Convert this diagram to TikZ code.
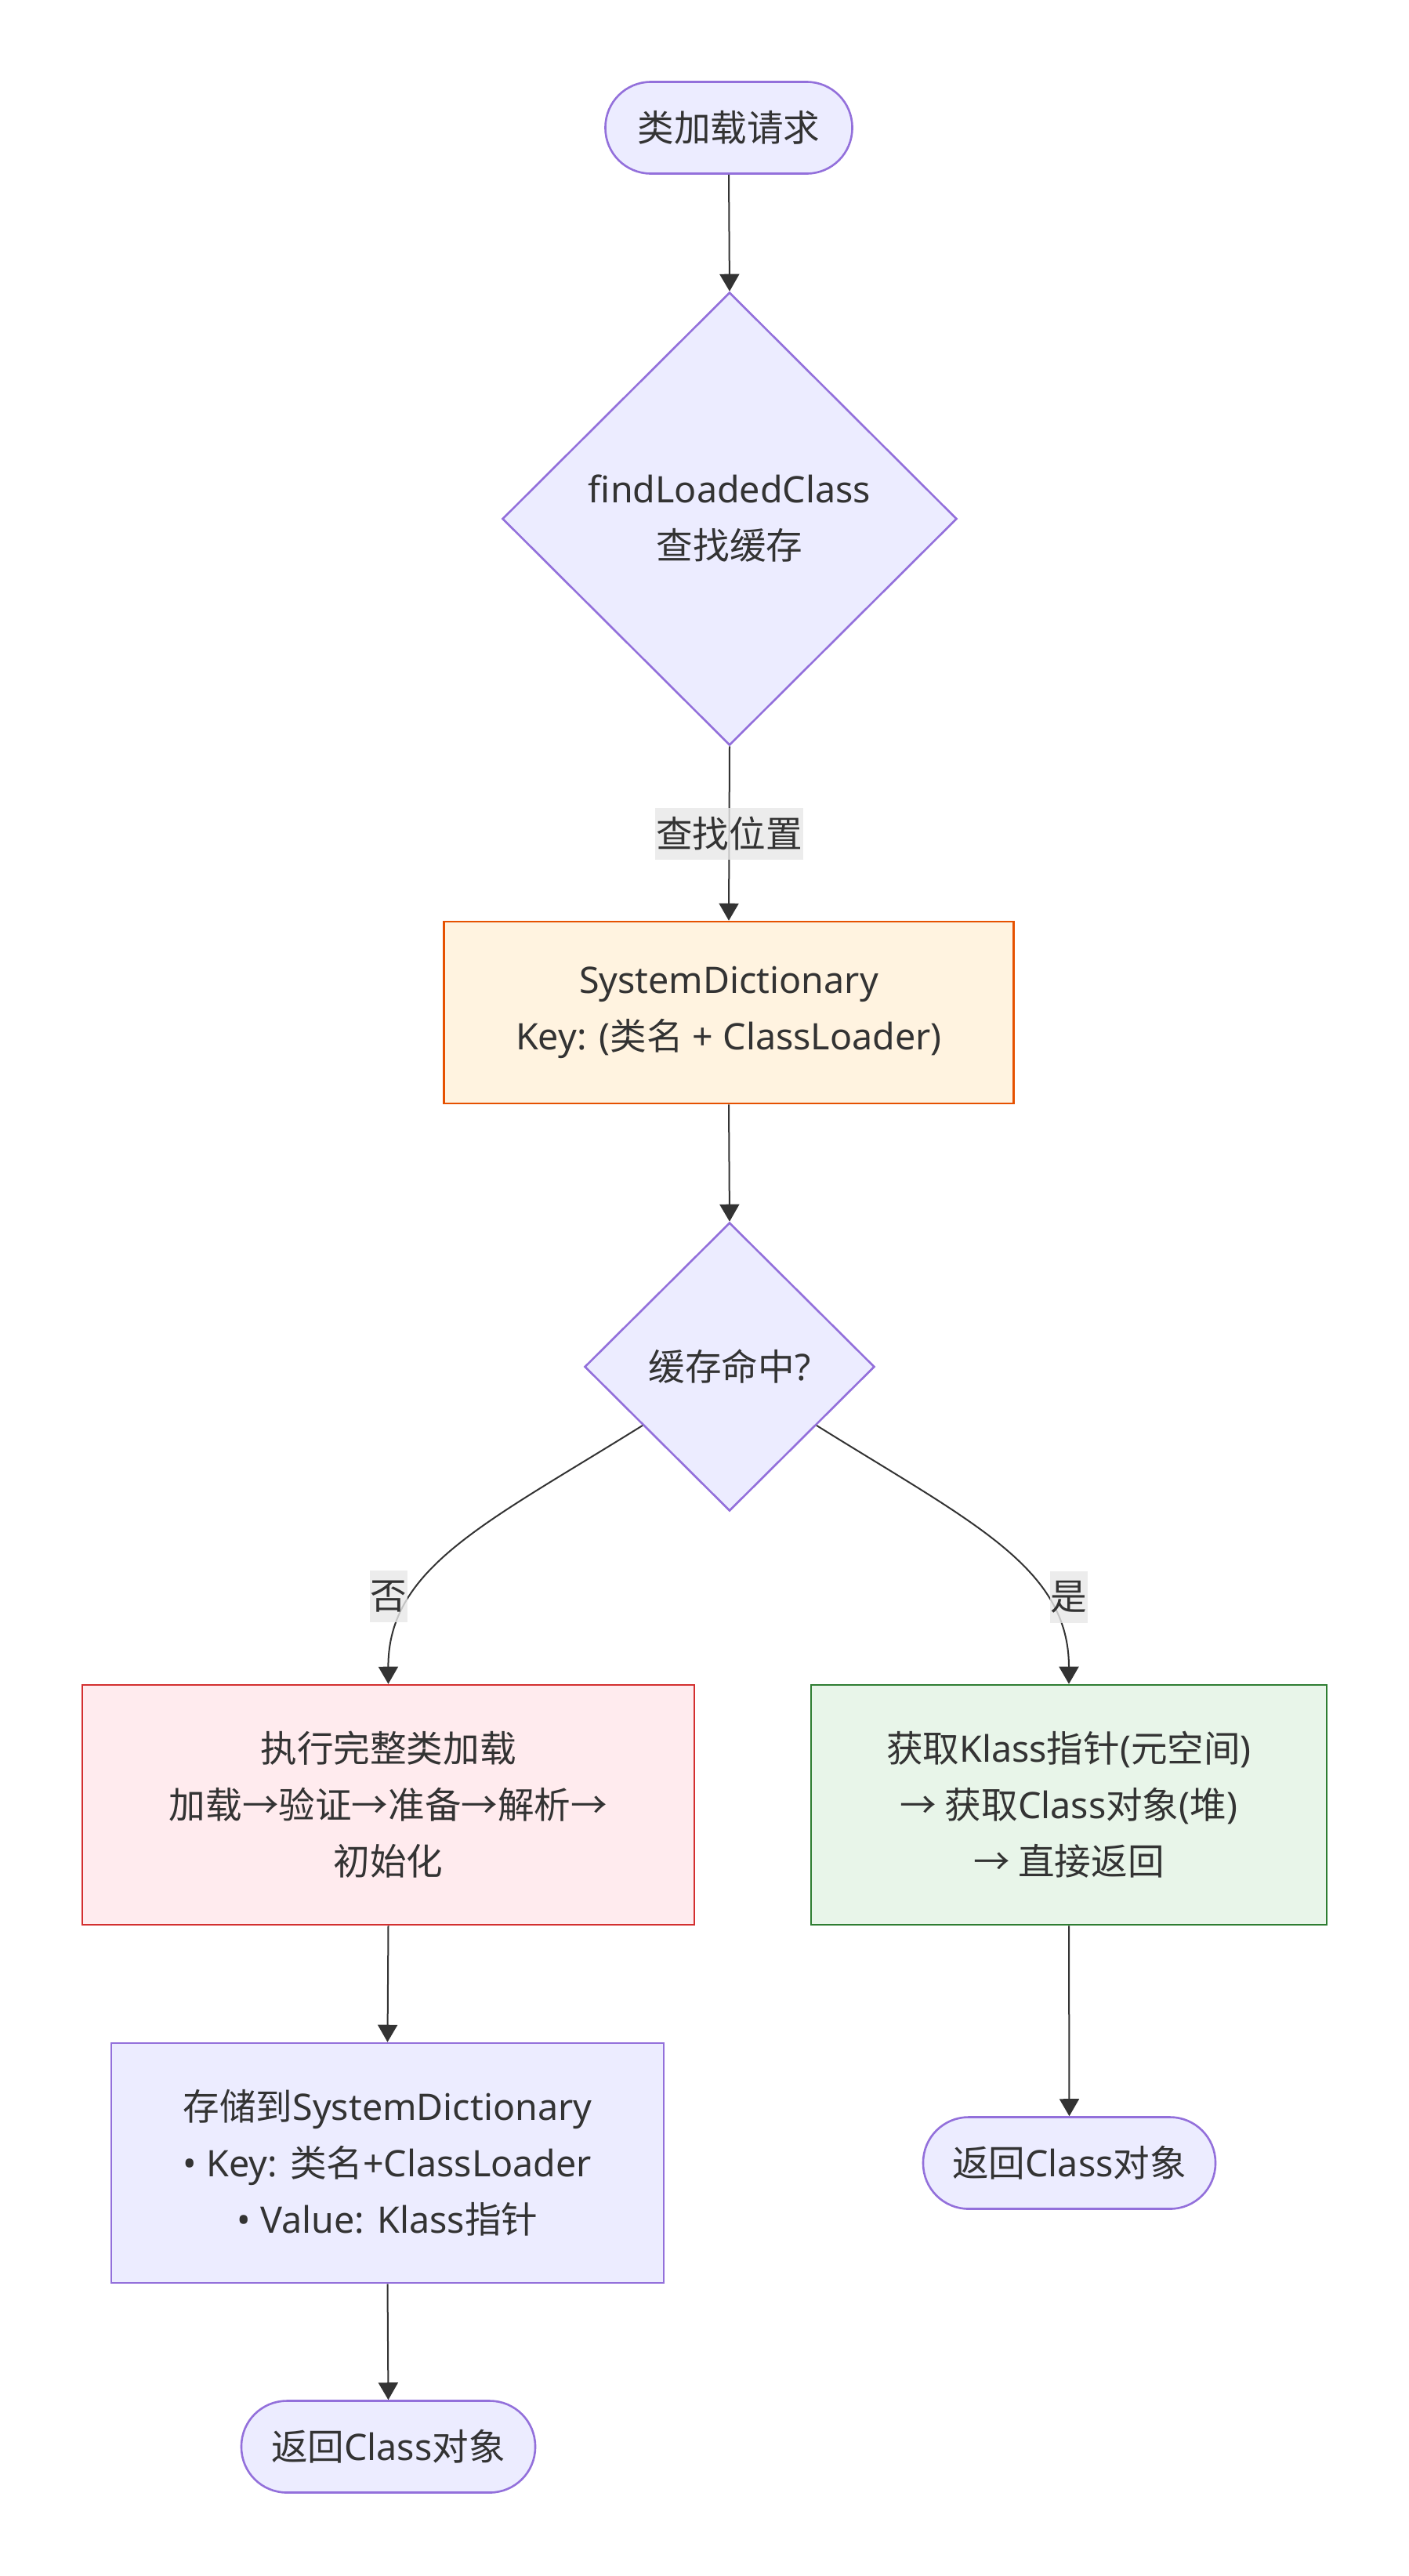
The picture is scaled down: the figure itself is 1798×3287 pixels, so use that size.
\documentclass[tikz,border=0pt]{standalone}
\usepackage{fontspec}
\setmainfont{Noto Sans}
\newfontfamily\cjk{Noto Sans CJK SC}
\usetikzlibrary{shapes.geometric,arrows.meta}
\definecolor{txt}{HTML}{333333}
\definecolor{pfill}{HTML}{ECECFF}
\definecolor{pstroke}{HTML}{9370DB}
\definecolor{ofill}{HTML}{FFF3E0}
\definecolor{ostroke}{HTML}{E65100}
\definecolor{rfill}{HTML}{FFEBEE}
\definecolor{rstroke}{HTML}{D32F2F}
\definecolor{gfill}{HTML}{E8F5E9}
\definecolor{gstroke}{HTML}{2E7D32}
\definecolor{lblbg}{HTML}{E8E8E8}
\newcommand\zh[1]{{\cjk #1}}
\begin{document}
\begin{tikzpicture}[x=0.5pt,y=-0.5pt,
 base/.style={align=center,text=txt,font=\fontsize{23.3pt}{36pt}\selectfont,line width=1.3pt,inner sep=0pt},
 term/.style={base,draw=pstroke,fill=pfill,rounded corners=29pt,minimum height=58.5pt},
 dec/.style={base,diamond,aspect=1,draw=pstroke,fill=pfill},
 proc/.style={base,rectangle,minimum height=153pt},
 edge/.style={draw=txt,line width=1pt,-{Triangle[length=11pt,width=12.5pt]}},
 lbl/.style={base,fill=lblbg,fill opacity=0.8,text opacity=1,inner xsep=0.5pt,minimum height=33pt}]
\path[use as bounding box,fill=white] (0,0) rectangle (1798,3287);

\node[term,minimum width=157.5pt] (start) at (930,163) {\zh{类加载请求}};
\node[dec,minimum width=290pt,minimum height=289pt] (find) at (931,662) {findLoadedClass\\\zh{查找缓存}};
\node[proc,draw=ostroke,fill=ofill,minimum width=363.5pt,minimum height=116pt] (sd) at (930,1292) {SystemDictionary\\Key: (\zh{类名} + ClassLoader)};
\node[dec,minimum width=185pt,minimum height=184pt] (hit) at (931,1744) {\zh{缓存命中}?};
\node[proc,draw=rstroke,fill=rfill,minimum width=390.5pt] (full) at (495.5,2303) {\zh{执行完整类加载}\\\zh{加载→验证→准备→解析→}\\\zh{初始化}};
\node[proc,draw=gstroke,fill=gfill,minimum width=329pt] (klass) at (1364,2303) {\zh{获取}Klass\zh{指针}(\zh{元空间})\\\zh{→ 获取}Class\zh{对象}(\zh{堆})\\\zh{→ 直接返回}};
\node[proc,draw=pstroke,fill=pfill,minimum width=352.5pt] (store) at (494.5,2760) {\zh{存储到}SystemDictionary\\• Key: \zh{类名}+ClassLoader\\• Value: Klass\zh{指针}};
\node[term,minimum width=187.5pt] (end1) at (495.5,3122) {\zh{返回}Class\zh{对象}};
\node[term,minimum width=186.5pt] (end2) at (1364.5,2760) {\zh{返回}Class\zh{对象}};

\draw[edge] (start.south) -- (find.north);
\draw[edge] (find.south) -- (sd.north) node[lbl,pos=0.5] (l1) {\zh{查找位置}};
\draw[edge] (sd.south) -- (hit.north);
\draw[edge] (hit.214) .. controls (621,1943) and (495,2000) .. (full.north);
\node[lbl] (no) at (496,2037) {\zh{否}};
\draw[edge] (hit.326) .. controls (1241,1943) and (1364,2000) .. (klass.north);
\node[lbl] (yes) at (1364,2038) {\zh{是}};
\draw[edge] (full.south) -- (store.north);
\draw[edge] (store.south) -- (end1.north);
\draw[edge] (klass.south) -- (end2.north);
\end{tikzpicture}
\end{document}
